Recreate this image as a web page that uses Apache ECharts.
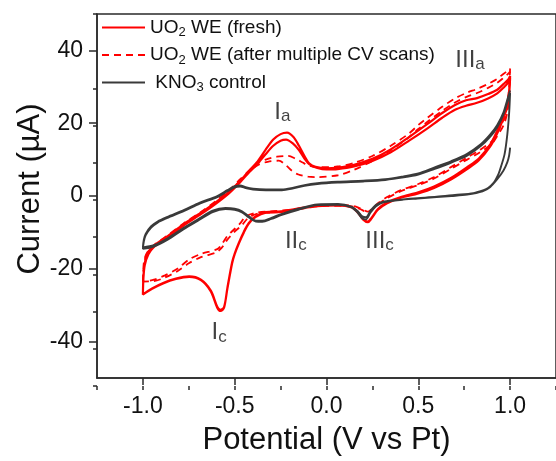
<!DOCTYPE html>
<html><head><meta charset="utf-8">
<script src="https://cdn.jsdelivr.net/npm/echarts@6/dist/echarts.min.js"></script>
<style>html,body{margin:0;padding:0;background:#fff}#chart{width:556px;height:461px}</style>
</head><body><div id="chart"></div>
<script>
// ---- axis ticks ----
const xTickValues = [-1.0, -0.5, 0.0, 0.5, 1.0];
const yTickValues = [-40, -20, 0, 20, 40];
const seriesNames = ['UO2 WE (fresh)', 'UO2 WE (after multiple CV scans)', 'KNO3 control'];

// ---- UO2 WE (fresh): [potential V, current uA] ----
const freshAnodic1 = [[-1.0,-27.1],[-0.997,-22],[-0.99,-18.5],[-0.973,-15.5],[-0.94,-13.6],[-0.9,-12.2],[-0.865,-11],[-0.78,-7.8],[-0.684,-4.6],[-0.6,-1.6],[-0.53,1.2],[-0.47,4.2],[-0.42,7],[-0.38,9.2],[-0.333,12.6],[-0.29,15.5],[-0.25,17],[-0.215,17.4],[-0.18,16.2],[-0.15,13.8],[-0.12,11],[-0.095,9],[-0.06,8],[0,7.6],[0.06,7.8],[0.15,8.6],[0.25,10.2],[0.35,12.8],[0.45,16.2],[0.55,19.8],[0.63,22.8],[0.7,25],[0.76,26.3],[0.82,26.9],[0.88,28],[0.93,29.2],[0.965,30.8],[0.99,32],[1.0,33]];
const freshCathodic1 = [[1.0,33],[0.995,29],[0.985,25.5],[0.964,22.3],[0.93,18],[0.892,14.2],[0.83,10.3],[0.766,7.9],[0.68,5],[0.586,2.6],[0.5,1],[0.405,-0.3],[0.33,-1.8],[0.28,-3.6],[0.245,-6],[0.225,-7],[0.2,-6.3],[0.17,-4.3],[0.135,-3],[0.063,-2.5],[-0.05,-2.7],[-0.15,-3.4],[-0.243,-4.2],[-0.33,-4.4],[-0.387,-5.6],[-0.423,-7.4],[-0.45,-9.8],[-0.477,-12.8],[-0.5,-15.8],[-0.514,-18.2],[-0.54,-25.3],[-0.558,-30.7],[-0.577,-31.6],[-0.595,-30.7],[-0.63,-26.2],[-0.684,-23.1],[-0.748,-22.2],[-0.82,-22.8],[-0.89,-24],[-0.95,-25.5],[-1.0,-27.1]];
const freshAnodic2 = [[-1.0,-27.1],[-0.997,-22.5],[-0.99,-19],[-0.97,-16],[-0.94,-14],[-0.9,-12.6],[-0.865,-11.4],[-0.78,-8.2],[-0.684,-5],[-0.6,-2],[-0.53,0.8],[-0.47,3.8],[-0.42,6.6],[-0.38,8.6],[-0.333,11.4],[-0.29,13.8],[-0.25,15.2],[-0.22,15.5],[-0.185,14.5],[-0.15,12.6],[-0.12,10.3],[-0.09,8.6],[-0.05,7.7],[0,7.3],[0.06,7.4],[0.15,8.1],[0.25,9.6],[0.35,12],[0.45,15.2],[0.55,18.6],[0.63,21.5],[0.7,23.7],[0.76,24.8],[0.82,25.6],[0.88,26.8],[0.93,28.2],[0.965,29.8],[0.99,31.2],[1.0,32.5]];
const freshCathodic2 = [[1.0,32.5],[0.995,28],[0.985,24.5],[0.964,21.4],[0.93,17.2],[0.892,13.6],[0.83,9.8],[0.766,7.4],[0.68,4.6],[0.586,2.2],[0.5,0.7],[0.405,-0.5],[0.33,-2],[0.28,-3.8],[0.245,-6.2],[0.225,-7.2],[0.2,-6.5],[0.17,-4.5],[0.135,-3.1],[0.063,-2.6],[-0.05,-2.8],[-0.15,-3.5],[-0.243,-4.4],[-0.33,-4.6],[-0.387,-5.8],[-0.423,-7.6],[-0.45,-10],[-0.477,-13],[-0.5,-16],[-0.514,-18.5],[-0.54,-25.5],[-0.558,-30.5],[-0.577,-31.3],[-0.595,-30.4],[-0.63,-26],[-0.684,-23],[-0.748,-22.1],[-0.82,-22.7],[-0.89,-23.9],[-0.95,-25.4],[-1.0,-27]];

// ---- UO2 WE (after multiple CV scans) ----
const scannedAnodic1 = [[-1.0,-23.5],[-0.997,-19.5],[-0.99,-17],[-0.97,-15],[-0.94,-13.5],[-0.9,-12],[-0.865,-10.8],[-0.78,-7.6],[-0.684,-4.4],[-0.6,-1.3],[-0.53,1.6],[-0.47,4.6],[-0.42,7],[-0.37,9.2],[-0.32,10.2],[-0.27,10.8],[-0.21,11],[-0.17,10.3],[-0.13,9.2],[-0.099,8.4],[-0.05,7.9],[0.06,8.1],[0.15,9.1],[0.25,11],[0.35,13.8],[0.45,17.2],[0.5,19.5],[0.55,21.5],[0.63,24.5],[0.7,26.8],[0.766,28.4],[0.82,29.4],[0.88,30.8],[0.93,32.2],[0.965,33.6],[0.99,34.5],[1.0,35]];
const scannedCathodic1 = [[1.0,35],[0.995,30],[0.985,25],[0.965,21],[0.93,17.5],[0.9,15],[0.83,12.5],[0.766,10.6],[0.68,8],[0.586,5.2],[0.5,3.3],[0.405,1.6],[0.33,-0.3],[0.28,-2],[0.245,-3.6],[0.225,-4.3],[0.2,-3.8],[0.16,-2.9],[0.1,-2.5],[0,-2.5],[-0.1,-3],[-0.2,-3.8],[-0.3,-4.2],[-0.38,-4.6],[-0.44,-5.6],[-0.468,-7.4],[-0.5,-9],[-0.54,-11],[-0.57,-13.2],[-0.595,-14.6],[-0.684,-15.9],[-0.75,-17.5],[-0.81,-19.9],[-0.88,-21.8],[-0.94,-23],[-1.0,-23.5]];
const scannedAnodic2 = [[-1.0,-23.5],[-0.997,-20],[-0.99,-17.5],[-0.97,-15.4],[-0.94,-13.8],[-0.9,-12.4],[-0.865,-11.2],[-0.78,-8],[-0.684,-4.8],[-0.6,-1.7],[-0.53,1.2],[-0.47,4.2],[-0.42,6.8],[-0.37,8.6],[-0.32,9.4],[-0.26,9.7],[-0.22,8.4],[-0.19,7],[-0.153,5.9],[-0.1,5.3],[-0.05,5.2],[0.063,5.7],[0.15,7.2],[0.25,9.6],[0.35,12.6],[0.45,16.2],[0.5,18.4],[0.55,20.4],[0.63,23.4],[0.7,25.7],[0.766,27.3],[0.82,28.3],[0.88,29.7],[0.93,31.1],[0.965,32.5],[0.99,33.6],[1.0,34.2]];
const scannedCathodic2 = [[1.0,34.2],[0.995,28],[0.985,23],[0.965,19.5],[0.93,16.5],[0.9,14.3],[0.83,11.8],[0.766,10],[0.68,7.5],[0.586,4.8],[0.5,3],[0.405,1.3],[0.33,-0.6],[0.28,-2.3],[0.245,-3.9],[0.225,-4.6],[0.2,-4],[0.16,-3.1],[0.1,-2.7],[0,-2.7],[-0.1,-3.2],[-0.2,-4],[-0.3,-4.5],[-0.38,-4.9],[-0.43,-6.2],[-0.46,-8],[-0.5,-9.8],[-0.54,-12],[-0.57,-14.2],[-0.6,-15.5],[-0.684,-16.8],[-0.75,-18.5],[-0.81,-20.6],[-0.88,-22.4],[-0.94,-23.4],[-1.0,-23.5]];

// ---- KNO3 control ----
const controlCathodic0 = [[1.0,13.3],[0.995,11.2],[0.985,9.3],[0.964,7],[0.93,4.6],[0.892,2.5],[0.85,1.3],[0.766,0.4],[0.68,0],[0.6,-0.3],[0.496,-0.7],[0.4,-1.1],[0.315,-1.7],[0.27,-2.8],[0.24,-4.5],[0.215,-6.4],[0.195,-6.2],[0.17,-4.6],[0.135,-3.1],[0.063,-2.4],[-0.05,-2.5],[-0.153,-3.8],[-0.243,-5.2],[-0.3,-6.3],[-0.35,-7.1],[-0.385,-7],[-0.423,-5.9],[-0.46,-4.5],[-0.5,-3.8],[-0.55,-3.6],[-0.62,-4.4],[-0.694,-6.6],[-0.78,-9.2],[-0.865,-12],[-0.94,-13.9],[-1.0,-14.5]];
const controlAnodic1 = [[-1.0,-14.5],[-0.995,-12.5],[-0.985,-10.8],[-0.955,-8.7],[-0.92,-7.3],[-0.87,-6.1],[-0.775,-4.1],[-0.69,-2.1],[-0.595,-0.3],[-0.54,1.3],[-0.5,2.4],[-0.47,2.6],[-0.44,2.2],[-0.4,1.8],[-0.33,1.6],[-0.243,1.6],[-0.18,2.1],[-0.12,2.8],[-0.05,3.3],[0.06,3.7],[0.2,4],[0.32,4.4],[0.42,5.1],[0.5,5.9],[0.586,7.4],[0.68,9.2],[0.766,11.1],[0.84,13.7],[0.892,16.3],[0.93,18.9],[0.964,22.4],[0.985,25.8],[1.0,28.3]];
const controlCathodic1 = [[1.0,28.3],[0.995,23],[0.985,17],[0.97,11.5],[0.95,8],[0.937,6.1],[0.91,3.6],[0.88,2.2],[0.856,1.6],[0.8,0.8],[0.7,0.3],[0.6,-0.2],[0.496,-0.6],[0.4,-1],[0.315,-1.5],[0.27,-2.4],[0.24,-4],[0.215,-5.8],[0.195,-5.6],[0.17,-4.2],[0.135,-2.9],[0.063,-2.2],[-0.05,-2.3],[-0.153,-3.5],[-0.243,-4.9],[-0.3,-6],[-0.35,-6.8],[-0.385,-6.8],[-0.423,-5.6],[-0.46,-4.2],[-0.5,-3.5],[-0.55,-3.3],[-0.62,-4],[-0.694,-6.2],[-0.78,-8.8],[-0.865,-11.6],[-0.94,-13.5],[-1.0,-14.1]];
const controlAnodic2 = [[-1.0,-14.1],[-0.995,-12],[-0.985,-10.4],[-0.955,-8.3],[-0.92,-7],[-0.87,-5.8],[-0.775,-3.8],[-0.69,-1.8],[-0.595,0],[-0.54,1.6],[-0.5,2.7],[-0.47,2.9],[-0.44,2.4],[-0.4,2],[-0.33,1.8],[-0.243,1.8],[-0.18,2.3],[-0.12,3],[-0.05,3.5],[0.06,3.9],[0.2,4.2],[0.32,4.6],[0.42,5.4],[0.5,6.2],[0.586,7.8],[0.68,9.6],[0.766,11.6],[0.84,14.2],[0.892,16.9],[0.93,19.5],[0.964,23],[0.985,26.5],[1.0,29]];

// ---- peak annotations ----
const peakMain = ['I', 'III', 'II', 'III', 'I'];
const peakSub = ['a', 'a', 'c', 'c', 'c'];
const peakPotential = [-0.24, 0.782, -0.167, 0.289, -0.585];
const peakCurrent = [23.0, 37.3, -12.4, -12.4, -37.6];

const FONT = "'Liberation Sans', Arial, Helvetica, sans-serif";
const RED = '#ff0000';
const DARK = '#3a3a3a';
const AXIS = '#2a2a2a';

const legendText = {};
legendText[seriesNames[0]] = 'UO{s|2} WE (fresh)';
legendText[seriesNames[1]] = 'UO{s|2} WE (after multiple CV scans)';
legendText[seriesNames[2]] = ' KNO{s|3} control';

const chart = echarts.init(document.getElementById('chart'), null, {renderer: 'canvas'});
const gridBox = {left: 97, top: 14, right: -3, bottom: 75};

const option = {
  animation: false,
  backgroundColor: '#ffffff',
  grid: [
    Object.assign({show: true, borderColor: AXIS, borderWidth: 1.5, backgroundColor: 'transparent'}, gridBox),
    Object.assign({show: false}, gridBox)
  ],
  legend: {
    data: seriesNames,
    orient: 'vertical',
    left: 101, top: 16,
    padding: 0,
    itemWidth: 43, itemHeight: 12, itemGap: 4.5,
    itemStyle: {opacity: 0},
    formatter: name => legendText[name],
    textStyle: {
      fontFamily: FONT, fontSize: 19, color: '#111', lineHeight: 23,
      rich: { s: {fontFamily: FONT, fontSize: 13, lineHeight: 9, verticalAlign: 'bottom', color: '#111'} }
    }
  },
  xAxis: [
    {
      gridIndex: 0, type: 'value', min: -1.25, max: 1.25,
      name: 'Potential (V vs Pt)', nameLocation: 'middle', nameGap: 47, nameMoveOverlap: false,
      nameTextStyle: {fontFamily: FONT, fontSize: 31, color: '#111'},
      axisLine: {show: true, onZero: false, lineStyle: {color: AXIS, width: 1.5}},
      axisTick: {show: true, length: 7, customValues: xTickValues, lineStyle: {color: AXIS, width: 1.5}},
      axisLabel: {show: true, customValues: xTickValues, margin: 17, fontFamily: FONT, fontSize: 23, color: '#111',
                  formatter: v => Number(v).toFixed(1)},
      splitLine: {show: false}
    },
    {
      gridIndex: 1, type: 'value', min: -1.25, max: 1.25, interval: 0.25,
      axisLine: {show: false, onZero: false},
      axisTick: {show: true, length: 4, lineStyle: {color: AXIS, width: 1.5}},
      axisLabel: {show: false}, splitLine: {show: false}
    }
  ],
  yAxis: [
    {
      gridIndex: 0, type: 'value', min: -50, max: 50,
      name: 'Current (µA)', nameLocation: 'middle', nameGap: 51, nameMoveOverlap: false,
      nameTextStyle: {fontFamily: FONT, fontSize: 31, color: '#111', padding: [0, 0, 0, 14]},
      axisLine: {show: true, onZero: false, lineStyle: {color: AXIS, width: 1.5}},
      axisTick: {show: true, length: 8, customValues: yTickValues, lineStyle: {color: AXIS, width: 1.5}},
      axisLabel: {show: true, customValues: yTickValues, margin: 14, fontFamily: FONT, fontSize: 23, color: '#111'},
      splitLine: {show: false}
    },
    {
      gridIndex: 1, type: 'value', min: -50, max: 50, interval: 10,
      axisLine: {show: false, onZero: false},
      axisTick: {show: true, length: 4, lineStyle: {color: AXIS, width: 1.5}},
      axisLabel: {show: false}, splitLine: {show: false}
    }
  ],
  series: [
    {
      name: seriesNames[0], type: 'line', xAxisIndex: 0, yAxisIndex: 0,
      data: [].concat(freshAnodic1, freshCathodic1, freshAnodic2, freshCathodic2),
      symbol: 'none', smooth: 0.3, clip: true,
      lineStyle: {color: RED, width: 2.2}, itemStyle: {color: RED}
    },
    {
      name: seriesNames[1], type: 'line', xAxisIndex: 0, yAxisIndex: 0,
      data: [].concat(scannedAnodic1, scannedCathodic1, scannedAnodic2, scannedCathodic2),
      symbol: 'none', smooth: 0.3, clip: true,
      lineStyle: {color: RED, width: 1.8, type: [7, 5]}, itemStyle: {color: RED}
    },
    {
      name: seriesNames[2], type: 'line', xAxisIndex: 0, yAxisIndex: 0,
      data: [].concat(controlCathodic0, controlAnodic1, controlCathodic1, controlAnodic2),
      symbol: 'none', smooth: 0.3, clip: true,
      lineStyle: {color: DARK, width: 1.9}, itemStyle: {color: DARK}
    },
    {
      name: 'peaks', type: 'scatter', xAxisIndex: 0, yAxisIndex: 0,
      symbolSize: 0, silent: true,
      data: peakMain.map((m, i) => ({
        value: [peakPotential[i], peakCurrent[i]],
        label: {formatter: '{m|' + m + '}{s|' + peakSub[i] + '}'}
      })),
      label: {
        show: true, position: 'inside', align: 'center', verticalAlign: 'middle',
        rich: {
          m: {fontFamily: FONT, fontSize: 24, lineHeight: 26, color: '#111'},
          s: {fontFamily: FONT, fontSize: 17, lineHeight: 10, verticalAlign: 'bottom', color: '#111'}
        }
      }
    }
  ]
};
chart.setOption(option);
</script></body></html>
